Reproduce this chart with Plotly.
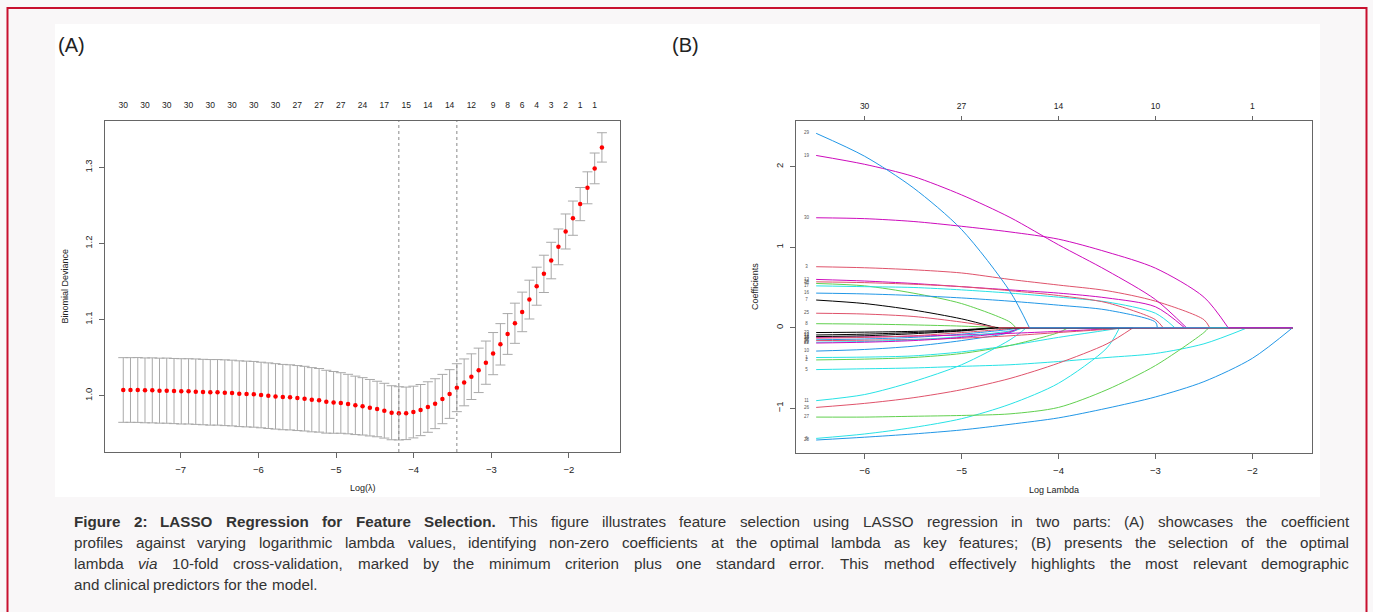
import plotly.graph_objects as go

W, H = 1373, 612

# ---------------- Panel A : cross-validation curve ----------------
log_lambda_a = [-7.740, -7.647, -7.553, -7.460, -7.366, -7.273, -7.180, -7.086, -6.993, -6.899,
                -6.806, -6.713, -6.619, -6.526, -6.432, -6.339, -6.246, -6.152, -6.059, -5.965,
                -5.872, -5.779, -5.685, -5.592, -5.498, -5.405, -5.312, -5.218, -5.125, -5.031,
                -4.938, -4.845, -4.751, -4.658, -4.564, -4.471, -4.378, -4.284, -4.191, -4.097,
                -4.004, -3.911, -3.817, -3.724, -3.630, -3.537, -3.444, -3.350, -3.257, -3.163,
                -3.070, -2.977, -2.883, -2.790, -2.696, -2.603, -2.510, -2.416, -2.323, -2.229,
                -2.136, -2.043, -1.949, -1.856, -1.762, -1.669, -1.576]
cv_deviance = [1.0075, 1.0075, 1.0075, 1.0070, 1.0070, 1.0066, 1.0066, 1.0061, 1.0057, 1.0057,
               1.0053, 1.0048, 1.0044, 1.0044, 1.0039, 1.0035, 1.0026, 1.0022, 1.0018, 1.0009,
               1.0000, 0.9991, 0.9982, 0.9978, 0.9969, 0.9961, 0.9947, 0.9939, 0.9921, 0.9912,
               0.9904, 0.9890, 0.9873, 0.9860, 0.9842, 0.9825, 0.9803, 0.9776, 0.9768, 0.9768,
               0.9785, 0.9811, 0.9851, 0.9895, 0.9956, 1.0022, 1.0105, 1.0175, 1.0250, 1.0333,
               1.0434, 1.0553, 1.0675, 1.0811, 1.0952, 1.1101, 1.1263, 1.1439, 1.1601, 1.1776,
               1.1956, 1.2158, 1.2333, 1.2518, 1.2732, 1.2987, 1.3263]
cv_sd = [0.0425, 0.0425, 0.0426, 0.0426, 0.0427, 0.0427, 0.0428, 0.0428, 0.0429, 0.0429,
         0.0430, 0.0430, 0.0431, 0.0431, 0.0432, 0.0432, 0.0432, 0.0432, 0.0432, 0.0431,
         0.0431, 0.0430, 0.0429, 0.0428, 0.0427, 0.0425, 0.0422, 0.0418, 0.0413, 0.0406,
         0.0398, 0.0391, 0.0384, 0.0377, 0.0371, 0.0365, 0.0360, 0.0355, 0.0350, 0.0345,
         0.0340, 0.0336, 0.0332, 0.0328, 0.0324, 0.0320, 0.0315, 0.0308, 0.0300, 0.0292,
         0.0284, 0.0277, 0.0272, 0.0268, 0.0264, 0.0260, 0.0255, 0.0250, 0.0245, 0.0240,
         0.0235, 0.0230, 0.0225, 0.0218, 0.0210, 0.0202, 0.0193]
nzero_index = [0, 3, 6, 9, 12, 15, 18, 21, 24, 27, 30, 33, 36, 39, 42, 45, 48,
               51, 53, 55, 57, 59, 61, 63, 65]
nzero_labels = ["30", "30", "30", "30", "30", "30", "30", "30", "27", "27", "27", "24", "17",
                "15", "14", "14", "12", "9", "8", "6", "4", "3", "2", "1", "1"]
lambda_min = -4.191
lambda_1se = -3.444
a_xticks = [-7, -6, -5, -4, -3, -2]
a_yticks = [1.0, 1.1, 1.2, 1.3]

# ---------------- Panel B : coefficient paths ----------------
grid_b = [-6.5, -6.0, -5.5, -5.0, -4.5, -4.0, -3.5, -3.0, -2.5, -2.0]
lambda_end_b = -1.585
var_labels = [str(i) for i in range(1, 31)]
var_zero_at = [-3.35, -3.90, -2.44, -4.44, -2.05, -3.37, -4.64, -4.56, -4.40, -4.38,
               -4.33, -2.70, -4.66, -3.30, -4.45, -2.98, -2.80, -4.62, -2.68, -3.25,
               -4.35, -4.40, -4.64, -2.92, -4.62, -3.23, -2.45, -1.585, -4.30, -2.25]
var_coefs = [
    [-0.37, -0.365, -0.35, -0.30, -0.22, -0.12, -0.03],                 # 1
    [-0.40, -0.39, -0.37, -0.32, -0.22, -0.06],                         # 2
    [0.758, 0.745, 0.72, 0.68, 0.60, 0.53, 0.46, 0.33, 0.10],            # 3
    [0.55, 0.52, 0.43, 0.30, 0.07],                                      # 4
    [-0.52, -0.51, -0.50, -0.48, -0.46, -0.42, -0.37, -0.32, -0.20],     # 5
    [-1.375, -1.32, -1.24, -1.13, -0.95, -0.69, -0.25],                  # 6
    [0.344, 0.30, 0.22, 0.11],                                           # 7
    [0.05, 0.045, 0.035, 0.02],                                          # 8
    [-0.15, -0.14, -0.12, -0.08, -0.02],                                 # 9
    [-0.29, -0.27, -0.23, -0.16, -0.06],                                 # 10
    [-0.906, -0.83, -0.67, -0.46, -0.15],                                # 11
    [0.60, 0.58, 0.55, 0.51, 0.47, 0.43, 0.37, 0.26],                    # 12
    [-0.09, -0.08, -0.06, -0.035],                                       # 13
    [-0.12, -0.115, -0.105, -0.09, -0.07, -0.045, -0.015],               # 14
    [-0.13, -0.12, -0.10, -0.06, -0.01],                                 # 15
    [0.43, 0.42, 0.40, 0.37, 0.33, 0.28, 0.22, 0.07],                    # 16
    [0.52, 0.51, 0.50, 0.47, 0.43, 0.38, 0.32, 0.18],                    # 17
    [-0.11, -0.10, -0.075, -0.04],                                       # 18
    [2.14, 2.03, 1.88, 1.65, 1.37, 1.03, 0.71, 0.35],                    # 19
    [-0.16, -0.155, -0.145, -0.13, -0.10, -0.06, -0.02],                 # 20
    [-0.18, -0.17, -0.15, -0.11, -0.04],                                 # 21
    [-0.19, -0.18, -0.16, -0.12, -0.05],                                 # 22
    [-0.06, -0.055, -0.045, -0.025],                                     # 23
    [0.57, 0.56, 0.54, 0.51, 0.46, 0.40, 0.31, 0.10],                    # 24
    [0.18, 0.17, 0.14, 0.07],                                            # 25
    [-0.99, -0.94, -0.87, -0.77, -0.63, -0.44, -0.20],                   # 26
    [-1.11, -1.11, -1.10, -1.09, -1.07, -0.99, -0.77, -0.47, -0.06],     # 27
    [-1.395, -1.36, -1.32, -1.27, -1.20, -1.12, -1.00, -0.86, -0.67, -0.38],  # 28
    [2.415, 2.13, 1.74, 1.22, 0.45],                                     # 29
    [1.366, 1.355, 1.32, 1.26, 1.19, 1.10, 0.94, 0.74, 0.38],            # 30
]
b_xticks = [-6, -5, -4, -3, -2]
b_top_labels = ["30", "27", "14", "10", "1"]
b_yticks = [-1, 0, 1, 2]

# caption: (style, text) segments per line; style "b" bold, "i" italic, "" regular
caption_lines = [
    [("b", "Figure 2: LASSO Regression for Feature Selection."),
     ("", "This figure illustrates feature selection using LASSO regression in two parts: (A) showcases the coefficient")],
    [("", "profiles against varying logarithmic lambda values, identifying non-zero coefficients at the optimal lambda as key features; (B) presents the selection of the optimal")],
    [("", "lambda"), ("i", "via"),
     ("", "10-fold cross-validation, marked by the minimum criterion plus one standard error. This method effectively highlights the most relevant demographic")],
    [("", "and clinical predictors for the model.")],
]

# ---------------- styling ----------------
FONT = "Liberation Sans, Arial, Helvetica, sans-serif"
R_COLS = {"black": "#000000", "pink": "#DF536B", "green": "#61D04F",
          "blue": "#2297E6", "cyan": "#28E2E5", "magenta": "#CD0BBC"}
var_color_names = ["cyan", "green", "pink", "green", "cyan", "cyan", "black", "green", "blue", "blue",
                   "cyan", "magenta", "black", "magenta", "pink", "blue", "cyan", "black", "magenta", "pink",
                   "cyan", "magenta", "black", "pink", "pink", "pink", "green", "blue", "blue", "magenta"]
BOX = "#666666"
TXT = "#222222"
CAP_FS = 15.2
CAP_LEFT, CAP_RIGHT = 73, 1348
CAP_Y0, CAP_DY = 521, 21

# Arial / Liberation Sans advance widths (1/1000 em)
REG_W = {' ': 278, '(': 333, ')': 333, ',': 278, '-': 333, '.': 278, ':': 278, ';': 278,
         'A': 667, 'B': 667, 'C': 722, 'D': 722, 'E': 667, 'F': 611, 'G': 778, 'H': 722, 'I': 278,
         'J': 500, 'K': 667, 'L': 556, 'M': 833, 'N': 722, 'O': 778, 'P': 667, 'Q': 778, 'R': 722,
         'S': 667, 'T': 611, 'U': 722, 'V': 667, 'W': 944, 'X': 667, 'Y': 667, 'Z': 611,
         'a': 556, 'b': 556, 'c': 500, 'd': 556, 'e': 556, 'f': 278, 'g': 556, 'h': 556, 'i': 222,
         'j': 222, 'k': 500, 'l': 222, 'm': 833, 'n': 556, 'o': 556, 'p': 556, 'q': 556, 'r': 333,
         's': 500, 't': 278, 'u': 556, 'v': 500, 'w': 722, 'x': 500, 'y': 500, 'z': 500}
BOLD_W = {' ': 278, ':': 333, '.': 278, 'A': 722, 'E': 667, 'F': 611, 'L': 611, 'O': 778,
          'R': 722, 'S': 667, 'a': 556, 'c': 556, 'e': 556, 'f': 333, 'g': 611, 'i': 278,
          'l': 278, 'n': 611, 'o': 611, 'r': 389, 's': 556, 't': 333, 'u': 611}


def text_width(s, style):
    table = BOLD_W if style == "b" else REG_W
    return sum(table.get(ch, 556) for ch in s) * CAP_FS / 1000.0


def px(x):
    return x / W


def py(y):
    return 1 - y / H


fig = go.Figure()

# Panel A traces
fig.add_trace(go.Scatter(
    x=log_lambda_a, y=cv_deviance, mode="markers",
    marker=dict(color="#ff0000", size=4.5),
    error_y=dict(type="data", array=cv_sd, color="#a9a9a9", thickness=1, width=5),
    xaxis="x", yaxis="y", showlegend=False, hoverinfo="skip"))

# Panel B traces
for lab, cname, zero_at, coefs in zip(var_labels, var_color_names, var_zero_at, var_coefs):
    col = R_COLS[cname]
    xs = grid_b[:len(coefs)] + [zero_at]
    ys = coefs + [0]
    fig.add_trace(go.Scatter(x=xs, y=ys, mode="lines",
                             line=dict(color=col, width=1, shape="spline", smoothing=0.8),
                             xaxis="x3", yaxis="y3", showlegend=False, hoverinfo="skip"))
for lab, cname, zero_at, coefs in zip(var_labels, var_color_names, var_zero_at, var_coefs):
    col = R_COLS[cname]
    fig.add_trace(go.Scatter(x=[zero_at, lambda_end_b], y=[0, 0], mode="lines",
                             line=dict(color=col, width=1),
                             xaxis="x3", yaxis="y3", showlegend=False, hoverinfo="skip"))
# coefficient labels at left
fig.add_trace(go.Scatter(x=[grid_b[0] - 0.1] * len(var_labels), y=[c[0] for c in var_coefs],
                         mode="text", text=var_labels,
                         textfont=dict(size=4.5, color="#555555", family=FONT),
                         xaxis="x3", yaxis="y3", showlegend=False, hoverinfo="skip"))

# ---------------- axes ----------------
ydomA = [py(452), py(121)]
axis_common = dict(showgrid=False, zeroline=False, showline=True, linecolor=BOX, linewidth=1,
                   ticks="outside", ticklen=5, tickcolor=BOX, tickwidth=1,
                   tickfont=dict(family=FONT, size=9.5, color=TXT))

fig.update_layout(
    xaxis=dict(domain=[px(105), px(620)], range=[-7.975, -1.343], anchor="y",
               tickvals=a_xticks, mirror=True, ticklabelstandoff=4, **axis_common),
    yaxis=dict(domain=ydomA, range=[0.926, 1.361], anchor="x",
               tickvals=a_yticks, tickformat=".1f", tickangle=-90, mirror=True,
               ticklabelstandoff=3, **axis_common),
    xaxis2=dict(domain=[px(105), px(620)], range=[-7.975, -1.343], overlaying="x", side="top",
                anchor="y", tickvals=[log_lambda_a[i] for i in nzero_index], ticktext=nzero_labels,
                showgrid=False, zeroline=False, showline=False, ticks="",
                ticklabelstandoff=10,
                tickfont=dict(family=FONT, size=8.5, color=TXT)),
    xaxis3=dict(domain=[px(796), px(1311.7)], range=[-6.708, -1.388], anchor="y3",
                tickvals=b_xticks, mirror=True, ticklabelstandoff=4, **axis_common),
    yaxis3=dict(domain=[py(452.5), py(121)], range=[-1.55, 2.568], anchor="x3",
                tickvals=b_yticks, tickangle=-90, mirror=True, ticklabelstandoff=3, **axis_common),
    xaxis4=dict(domain=[px(796), px(1311.7)], range=[-6.708, -1.388], overlaying="x3", side="top",
                anchor="y3", tickvals=b_xticks, ticktext=b_top_labels,
                showgrid=False, zeroline=False, showline=False, ticks="outside", ticklen=4,
                tickcolor=BOX, ticklabelstandoff=4,
                tickfont=dict(family=FONT, size=8.5, color=TXT)),
)

# invisible anchors so the top axes render
fig.add_trace(go.Scatter(x=[log_lambda_a[0]], y=[cv_deviance[0]], mode="markers",
                         marker=dict(opacity=0), xaxis="x2", yaxis="y",
                         showlegend=False, hoverinfo="skip"))
fig.add_trace(go.Scatter(x=[grid_b[0]], y=[0], mode="markers",
                         marker=dict(opacity=0), xaxis="x4", yaxis="y3",
                         showlegend=False, hoverinfo="skip"))

shapes = [
    dict(type="rect", xref="paper", yref="paper", x0=px(55), x1=px(1320), y0=py(497), y1=py(24),
         fillcolor="#ffffff", line=dict(width=0), layer="below"),
    dict(type="rect", xref="paper", yref="paper", x0=px(7.5), x1=px(1366.5), y0=py(616), y1=py(8),
         fillcolor="rgba(0,0,0,0)", line=dict(color="#c8102e", width=2), layer="above"),
    dict(type="line", xref="x", yref="y domain", x0=lambda_min, x1=lambda_min, y0=0, y1=1,
         line=dict(color="#888888", width=1, dash="dot")),
    dict(type="line", xref="x", yref="y domain", x0=lambda_1se, x1=lambda_1se, y0=0, y1=1,
         line=dict(color="#888888", width=1, dash="dot")),
]

annotations = [
    dict(text="(A)", x=px(56), y=py(45), xref="paper", yref="paper", xanchor="left", yanchor="middle",
         showarrow=False, font=dict(family=FONT, size=20, color=TXT)),
    dict(text="(B)", x=px(670), y=py(45), xref="paper", yref="paper", xanchor="left", yanchor="middle",
         showarrow=False, font=dict(family=FONT, size=20, color=TXT)),
    dict(text="Log(λ)", x=px(362.5), y=py(488), xref="paper", yref="paper", xanchor="center",
         yanchor="middle", showarrow=False, font=dict(family=FONT, size=9, color=TXT)),
    dict(text="Binomial Deviance", x=px(64), y=py(286.5), xref="paper", yref="paper", xanchor="center",
         yanchor="middle", textangle=-90, showarrow=False, font=dict(family=FONT, size=9, color=TXT)),
    dict(text="Log Lambda", x=px(1054), y=py(490), xref="paper", yref="paper", xanchor="center",
         yanchor="middle", showarrow=False, font=dict(family=FONT, size=9, color=TXT)),
    dict(text="Coefficients", x=px(755), y=py(287), xref="paper", yref="paper", xanchor="center",
         yanchor="middle", textangle=-90, showarrow=False, font=dict(family=FONT, size=9, color=TXT)),
]

# justified caption (last line left aligned)
for li, segs in enumerate(caption_lines):
    ypos = py(CAP_Y0 + CAP_DY * li)
    words = []
    for style, txt in segs:
        for w in txt.split(" "):
            if w:
                words.append((style, w))
    if li == len(caption_lines) - 1:
        gap = REG_W[' '] * CAP_FS / 1000.0
    else:
        total = sum(text_width(w, s) for s, w in words)
        gap = (CAP_RIGHT - CAP_LEFT - total) / (len(words) - 1)
    xcur = CAP_LEFT
    for style, w in words:
        t = w
        if style == "b":
            t = "<b>" + w + "</b>"
        elif style == "i":
            t = "<i>" + w + "</i>"
        annotations.append(dict(text=t, x=px(xcur), y=ypos, xref="paper", yref="paper",
                                xanchor="left", yanchor="middle", showarrow=False, borderpad=0,
                                font=dict(family=FONT, size=CAP_FS, color="#333333")))
        xcur += text_width(w, style) + gap

fig.update_layout(
    width=W, height=H, margin=dict(l=0, r=0, t=0, b=0),
    paper_bgcolor="#f9f7f8", plot_bgcolor="#ffffff",
    shapes=shapes, annotations=annotations, showlegend=False,
)

fig.write_html("out.html", config={"displayModeBar": False},
               post_script="document.body.style.margin='0px';")
